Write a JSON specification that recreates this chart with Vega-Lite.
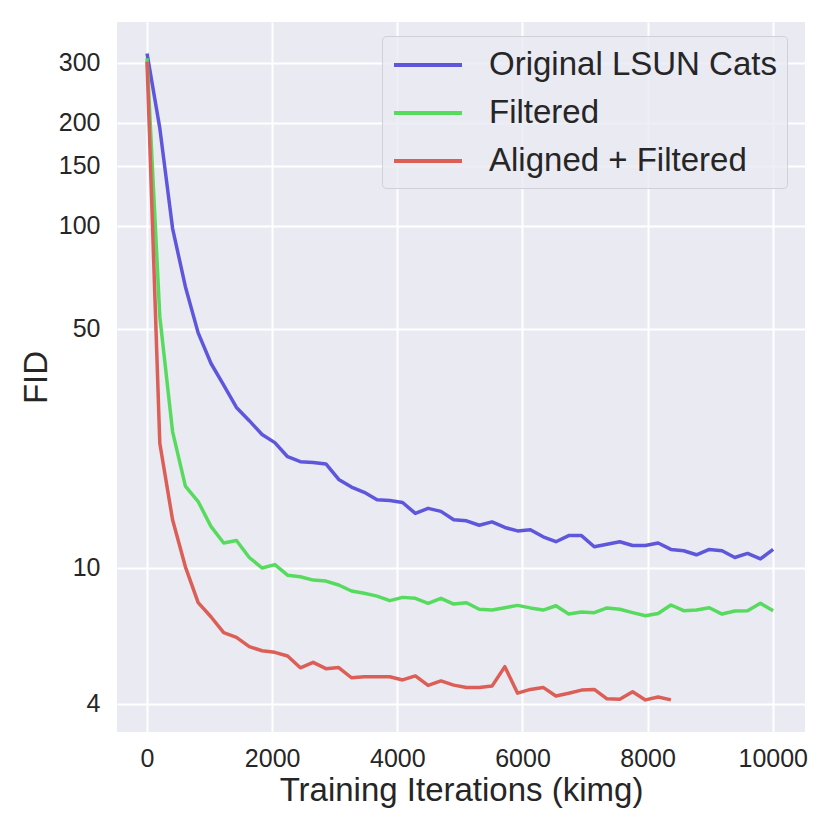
{
  "$schema": "https://vega.github.io/schema/vega-lite/v6.json",
  "width": 688,
  "height": 710,
  "autosize": "none",
  "padding": {"left": 117, "top": 22, "right": 25, "bottom": 98},
  "background": "white",
  "data": {
    "values": [
      {"run": "Original LSUN Cats", "kimg": 0, "fid": 319},
      {"run": "Original LSUN Cats", "kimg": 204, "fid": 193},
      {"run": "Original LSUN Cats", "kimg": 408, "fid": 98.3},
      {"run": "Original LSUN Cats", "kimg": 613, "fid": 66.3},
      {"run": "Original LSUN Cats", "kimg": 817, "fid": 48.6},
      {"run": "Original LSUN Cats", "kimg": 1021, "fid": 39.6},
      {"run": "Original LSUN Cats", "kimg": 1225, "fid": 34.2},
      {"run": "Original LSUN Cats", "kimg": 1429, "fid": 29.4},
      {"run": "Original LSUN Cats", "kimg": 1634, "fid": 26.9},
      {"run": "Original LSUN Cats", "kimg": 1838, "fid": 24.5},
      {"run": "Original LSUN Cats", "kimg": 2042, "fid": 23.2},
      {"run": "Original LSUN Cats", "kimg": 2246, "fid": 21.1},
      {"run": "Original LSUN Cats", "kimg": 2450, "fid": 20.4},
      {"run": "Original LSUN Cats", "kimg": 2655, "fid": 20.3},
      {"run": "Original LSUN Cats", "kimg": 2859, "fid": 20.1},
      {"run": "Original LSUN Cats", "kimg": 3063, "fid": 18.1},
      {"run": "Original LSUN Cats", "kimg": 3267, "fid": 17.2},
      {"run": "Original LSUN Cats", "kimg": 3471, "fid": 16.6},
      {"run": "Original LSUN Cats", "kimg": 3676, "fid": 15.8},
      {"run": "Original LSUN Cats", "kimg": 3880, "fid": 15.7},
      {"run": "Original LSUN Cats", "kimg": 4084, "fid": 15.5},
      {"run": "Original LSUN Cats", "kimg": 4288, "fid": 14.4},
      {"run": "Original LSUN Cats", "kimg": 4492, "fid": 14.9},
      {"run": "Original LSUN Cats", "kimg": 4697, "fid": 14.6},
      {"run": "Original LSUN Cats", "kimg": 4901, "fid": 13.8},
      {"run": "Original LSUN Cats", "kimg": 5105, "fid": 13.7},
      {"run": "Original LSUN Cats", "kimg": 5309, "fid": 13.3},
      {"run": "Original LSUN Cats", "kimg": 5513, "fid": 13.6},
      {"run": "Original LSUN Cats", "kimg": 5718, "fid": 13.1},
      {"run": "Original LSUN Cats", "kimg": 5922, "fid": 12.8},
      {"run": "Original LSUN Cats", "kimg": 6126, "fid": 12.9},
      {"run": "Original LSUN Cats", "kimg": 6330, "fid": 12.3},
      {"run": "Original LSUN Cats", "kimg": 6534, "fid": 11.9},
      {"run": "Original LSUN Cats", "kimg": 6739, "fid": 12.4},
      {"run": "Original LSUN Cats", "kimg": 6943, "fid": 12.4},
      {"run": "Original LSUN Cats", "kimg": 7147, "fid": 11.5},
      {"run": "Original LSUN Cats", "kimg": 7351, "fid": 11.7},
      {"run": "Original LSUN Cats", "kimg": 7555, "fid": 11.9},
      {"run": "Original LSUN Cats", "kimg": 7760, "fid": 11.6},
      {"run": "Original LSUN Cats", "kimg": 7964, "fid": 11.6},
      {"run": "Original LSUN Cats", "kimg": 8168, "fid": 11.8},
      {"run": "Original LSUN Cats", "kimg": 8372, "fid": 11.3},
      {"run": "Original LSUN Cats", "kimg": 8576, "fid": 11.2},
      {"run": "Original LSUN Cats", "kimg": 8781, "fid": 10.9},
      {"run": "Original LSUN Cats", "kimg": 8985, "fid": 11.3},
      {"run": "Original LSUN Cats", "kimg": 9189, "fid": 11.2},
      {"run": "Original LSUN Cats", "kimg": 9393, "fid": 10.7},
      {"run": "Original LSUN Cats", "kimg": 9597, "fid": 11.0},
      {"run": "Original LSUN Cats", "kimg": 9802, "fid": 10.6},
      {"run": "Original LSUN Cats", "kimg": 10006, "fid": 11.3},
      {"run": "Filtered", "kimg": 0, "fid": 309},
      {"run": "Filtered", "kimg": 204, "fid": 54.2},
      {"run": "Filtered", "kimg": 408, "fid": 25.0},
      {"run": "Filtered", "kimg": 613, "fid": 17.3},
      {"run": "Filtered", "kimg": 817, "fid": 15.6},
      {"run": "Filtered", "kimg": 1021, "fid": 13.2},
      {"run": "Filtered", "kimg": 1225, "fid": 11.8},
      {"run": "Filtered", "kimg": 1429, "fid": 12.0},
      {"run": "Filtered", "kimg": 1634, "fid": 10.7},
      {"run": "Filtered", "kimg": 1838, "fid": 9.97},
      {"run": "Filtered", "kimg": 2042, "fid": 10.2},
      {"run": "Filtered", "kimg": 2246, "fid": 9.5},
      {"run": "Filtered", "kimg": 2450, "fid": 9.4},
      {"run": "Filtered", "kimg": 2655, "fid": 9.19},
      {"run": "Filtered", "kimg": 2859, "fid": 9.13},
      {"run": "Filtered", "kimg": 3063, "fid": 8.89},
      {"run": "Filtered", "kimg": 3267, "fid": 8.54},
      {"run": "Filtered", "kimg": 3471, "fid": 8.41},
      {"run": "Filtered", "kimg": 3676, "fid": 8.25},
      {"run": "Filtered", "kimg": 3880, "fid": 8.0},
      {"run": "Filtered", "kimg": 4084, "fid": 8.18},
      {"run": "Filtered", "kimg": 4288, "fid": 8.13},
      {"run": "Filtered", "kimg": 4492, "fid": 7.86},
      {"run": "Filtered", "kimg": 4697, "fid": 8.13},
      {"run": "Filtered", "kimg": 4901, "fid": 7.82},
      {"run": "Filtered", "kimg": 5105, "fid": 7.89},
      {"run": "Filtered", "kimg": 5309, "fid": 7.55},
      {"run": "Filtered", "kimg": 5513, "fid": 7.51},
      {"run": "Filtered", "kimg": 5718, "fid": 7.63},
      {"run": "Filtered", "kimg": 5922, "fid": 7.75},
      {"run": "Filtered", "kimg": 6126, "fid": 7.62},
      {"run": "Filtered", "kimg": 6330, "fid": 7.51},
      {"run": "Filtered", "kimg": 6534, "fid": 7.73},
      {"run": "Filtered", "kimg": 6739, "fid": 7.31},
      {"run": "Filtered", "kimg": 6943, "fid": 7.41},
      {"run": "Filtered", "kimg": 7147, "fid": 7.38},
      {"run": "Filtered", "kimg": 7351, "fid": 7.62},
      {"run": "Filtered", "kimg": 7555, "fid": 7.55},
      {"run": "Filtered", "kimg": 7760, "fid": 7.38},
      {"run": "Filtered", "kimg": 7964, "fid": 7.23},
      {"run": "Filtered", "kimg": 8168, "fid": 7.34},
      {"run": "Filtered", "kimg": 8372, "fid": 7.77},
      {"run": "Filtered", "kimg": 8576, "fid": 7.48},
      {"run": "Filtered", "kimg": 8781, "fid": 7.51},
      {"run": "Filtered", "kimg": 8985, "fid": 7.63},
      {"run": "Filtered", "kimg": 9189, "fid": 7.31},
      {"run": "Filtered", "kimg": 9393, "fid": 7.46},
      {"run": "Filtered", "kimg": 9597, "fid": 7.48},
      {"run": "Filtered", "kimg": 9802, "fid": 7.86},
      {"run": "Filtered", "kimg": 10006, "fid": 7.48},
      {"run": "Aligned + Filtered", "kimg": 0, "fid": 302},
      {"run": "Aligned + Filtered", "kimg": 204, "fid": 23.1},
      {"run": "Aligned + Filtered", "kimg": 408, "fid": 13.8},
      {"run": "Aligned + Filtered", "kimg": 613, "fid": 10.05},
      {"run": "Aligned + Filtered", "kimg": 817, "fid": 7.9},
      {"run": "Aligned + Filtered", "kimg": 1021, "fid": 7.18},
      {"run": "Aligned + Filtered", "kimg": 1225, "fid": 6.45},
      {"run": "Aligned + Filtered", "kimg": 1429, "fid": 6.25},
      {"run": "Aligned + Filtered", "kimg": 1634, "fid": 5.87},
      {"run": "Aligned + Filtered", "kimg": 1838, "fid": 5.71},
      {"run": "Aligned + Filtered", "kimg": 2042, "fid": 5.65},
      {"run": "Aligned + Filtered", "kimg": 2246, "fid": 5.51},
      {"run": "Aligned + Filtered", "kimg": 2450, "fid": 5.09},
      {"run": "Aligned + Filtered", "kimg": 2655, "fid": 5.28},
      {"run": "Aligned + Filtered", "kimg": 2859, "fid": 5.06},
      {"run": "Aligned + Filtered", "kimg": 3063, "fid": 5.1},
      {"run": "Aligned + Filtered", "kimg": 3267, "fid": 4.76},
      {"run": "Aligned + Filtered", "kimg": 3471, "fid": 4.79},
      {"run": "Aligned + Filtered", "kimg": 3676, "fid": 4.79},
      {"run": "Aligned + Filtered", "kimg": 3880, "fid": 4.79},
      {"run": "Aligned + Filtered", "kimg": 4084, "fid": 4.69},
      {"run": "Aligned + Filtered", "kimg": 4288, "fid": 4.82},
      {"run": "Aligned + Filtered", "kimg": 4492, "fid": 4.52},
      {"run": "Aligned + Filtered", "kimg": 4697, "fid": 4.66},
      {"run": "Aligned + Filtered", "kimg": 4901, "fid": 4.53},
      {"run": "Aligned + Filtered", "kimg": 5105, "fid": 4.46},
      {"run": "Aligned + Filtered", "kimg": 5309, "fid": 4.46},
      {"run": "Aligned + Filtered", "kimg": 5513, "fid": 4.5},
      {"run": "Aligned + Filtered", "kimg": 5718, "fid": 5.13},
      {"run": "Aligned + Filtered", "kimg": 5922, "fid": 4.29},
      {"run": "Aligned + Filtered", "kimg": 6126, "fid": 4.4},
      {"run": "Aligned + Filtered", "kimg": 6330, "fid": 4.46},
      {"run": "Aligned + Filtered", "kimg": 6534, "fid": 4.21},
      {"run": "Aligned + Filtered", "kimg": 6739, "fid": 4.29},
      {"run": "Aligned + Filtered", "kimg": 6943, "fid": 4.38},
      {"run": "Aligned + Filtered", "kimg": 7147, "fid": 4.4},
      {"run": "Aligned + Filtered", "kimg": 7351, "fid": 4.13},
      {"run": "Aligned + Filtered", "kimg": 7555, "fid": 4.12},
      {"run": "Aligned + Filtered", "kimg": 7760, "fid": 4.33},
      {"run": "Aligned + Filtered", "kimg": 7964, "fid": 4.1},
      {"run": "Aligned + Filtered", "kimg": 8168, "fid": 4.18},
      {"run": "Aligned + Filtered", "kimg": 8372, "fid": 4.1}
    ]
  },
  "mark": {"type": "line", "strokeWidth": 3.5, "strokeJoin": "round"},
  "encoding": {
    "x": {
      "field": "kimg",
      "type": "quantitative",
      "scale": {"domain": [-480, 10515], "nice": false, "zero": false},
      "axis": {
        "title": "Training Iterations (kimg)",
        "values": [0, 2000, 4000, 6000, 8000, 10000],
        "format": "d",
        "labelPadding": 14,
        "titlePadding": 3
      }
    },
    "y": {
      "field": "fid",
      "type": "quantitative",
      "scale": {"type": "log", "domain": [3.303, 394.5], "nice": false},
      "axis": {
        "title": "FID",
        "values": [4, 10, 50, 100, 150, 200, 300],
        "format": "d",
        "labelPadding": 17,
        "titlePadding": 5
      }
    },
    "color": {
      "field": "run",
      "type": "nominal",
      "sort": null,
      "scale": {
        "domain": ["Original LSUN Cats", "Filtered", "Aligned + Filtered"],
        "range": ["#5f57db", "#57db5f", "#db5f57"]
      },
      "legend": {
        "title": null,
        "orient": "none",
        "legendX": 265,
        "legendY": 14,
        "symbolType": "M-1,0H3",
        "symbolSize": 1156,
        "symbolStrokeWidth": 4,
        "labelFontSize": 33,
        "labelColor": "#262626",
        "labelOffset": 59,
        "labelLimit": 0,
        "padding": 10,
        "rowPadding": 12,
        "fillColor": "rgba(234,234,242,0.8)",
        "strokeColor": "#d0d0d6",
        "cornerRadius": 4
      }
    }
  },
  "config": {
    "font": "Liberation Sans",
    "view": {"fill": "#EAEAF2", "stroke": null},
    "axis": {
      "domain": false,
      "ticks": false,
      "tickSize": 0,
      "grid": true,
      "gridColor": "#ffffff",
      "gridWidth": 2,
      "gridOpacity": 1,
      "labelFontSize": 25,
      "labelColor": "#262626",
      "titleFontSize": 33,
      "titleColor": "#262626",
      "titleFontWeight": "normal"
    }
  }
}
